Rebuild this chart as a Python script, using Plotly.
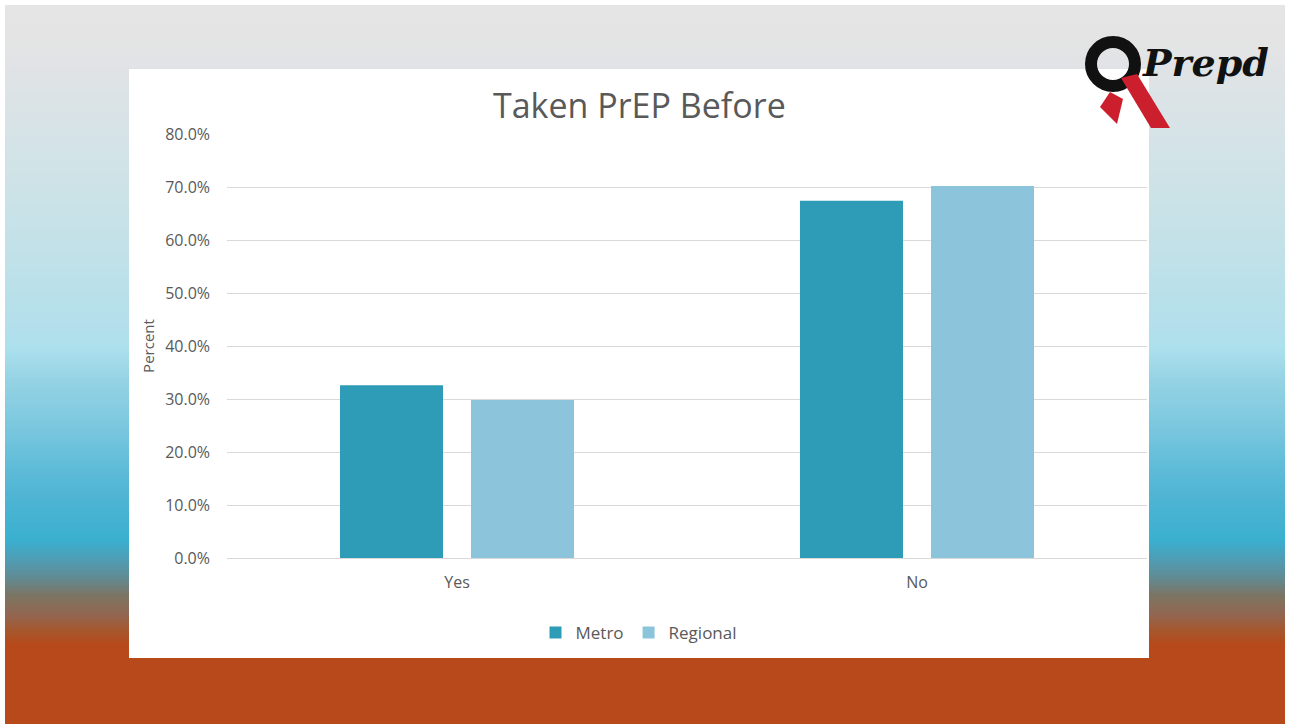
import plotly.graph_objects as go

# ---- data ----
categories = ["Yes", "No"]
metro = [0.326, 0.674]
regional = [0.298, 0.702]
series_names = ["Metro", "Regional"]
y_ticks = [0.0, 0.1, 0.2, 0.3, 0.4, 0.5, 0.6, 0.7, 0.8]
y_tick_labels = ["0.0%", "10.0%", "20.0%", "30.0%", "40.0%", "50.0%", "60.0%", "70.0%", "80.0%"]
title_text = "Taken PrEP Before"

W, H = 1292, 724
METRO_C = "#2E9BB7"
REGIONAL_C = "#8CC5DB"
TXT = "#595959"

def px(x):
    return x / W

def py(y):
    return 1 - y / H

# background gradient stops (pixel y, rgb)
grad = [
    (5, (229, 229, 229)), (40, (228, 228, 228)), (70, (224, 227, 230)),
    (150, (211, 227, 231)), (250, (194, 225, 232)), (330, (178, 223, 235)),
    (347, (173, 224, 237)), (380, (149, 211, 228)), (420, (127, 201, 223)),
    (460, (100, 190, 217)), (490, (82, 182, 212)), (540, (58, 175, 207)),
    (555, (74, 161, 187)), (575, (94, 142, 154)), (595, (123, 117, 100)),
    (615, (147, 102, 80)), (630, (165, 88, 47)), (645, (183, 73, 26)),
    (724, (183, 73, 26)),
]

def color_at(y):
    for (y0, c0), (y1, c1) in zip(grad[:-1], grad[1:]):
        if y0 <= y <= y1:
            t = (y - y0) / (y1 - y0) if y1 > y0 else 0
            return "rgb(%d,%d,%d)" % tuple(round(a + (b - a) * t) for a, b in zip(c0, c1))
    return "rgb(183,73,26)"

shapes = []
step = 2
y = 5
while y < H:
    shapes.append(dict(type="rect", xref="paper", yref="paper", layer="below",
                       x0=px(5), x1=px(1285), y0=py(min(y + step + 1, H)), y1=py(y),
                       fillcolor=color_at(y + step / 2), line=dict(width=0)))
    y += step
# white chart panel
shapes.append(dict(type="rect", xref="paper", yref="paper", layer="below",
                   x0=px(129), x1=px(1149), y0=py(658), y1=py(69),
                   fillcolor="white", line=dict(width=0)))
# logo: ring + ribbon
shapes.append(dict(type="circle", xref="paper", yref="paper", layer="above",
                   x0=px(1091), x1=px(1135), y0=py(86), y1=py(42),
                   line=dict(color="#111111", width=12)))
shapes.append(dict(type="path", xref="paper", yref="paper", layer="above",
                   path="M %f,%f L %f,%f L %f,%f L %f,%f Z" % (px(1121), py(78), px(1137), py(74),
                                                               px(1170), py(128), px(1151), py(128)),
                   fillcolor="#CC1F2D", line=dict(width=0)))
shapes.append(dict(type="path", xref="paper", yref="paper", layer="above",
                   path="M %f,%f L %f,%f L %f,%f L %f,%f Z" % (px(1110), py(92), px(1123), py(99),
                                                               px(1117), py(124), px(1100), py(107)),
                   fillcolor="#CC1F2D", line=dict(width=0)))

fig = go.Figure()
fig.add_trace(go.Bar(x=categories, y=metro, name=series_names[0], marker_color=METRO_C,
                     marker_line_width=0))
fig.add_trace(go.Bar(x=categories, y=regional, name=series_names[1], marker_color=REGIONAL_C,
                     marker_line_width=0))

fig.update_layout(
    width=W, height=H,
    margin=dict(l=0, r=0, t=0, b=0, pad=0, autoexpand=False),
    paper_bgcolor="white", plot_bgcolor="rgba(0,0,0,0)",
    barmode="group", bargap=0.4304, bargroupgap=0.2137,
    font=dict(family="Open Sans", color=TXT, size=16),
    shapes=shapes,
    showlegend=True,
    legend=dict(orientation="h", x=px(639), xanchor="center", y=py(633), yanchor="middle",
                font=dict(size=17, color=TXT), itemwidth=30, bgcolor="rgba(0,0,0,0)"),
    xaxis=dict(domain=[px(227), px(1147)], showgrid=False, showline=True, linecolor="#D9D9D9",
               linewidth=1, tickfont=dict(size=16, color=TXT), ticks="", ticklabelstandoff=10,
               fixedrange=True, automargin=False),
    yaxis=dict(domain=[py(558), py(134)], range=[0, 0.8], tickvals=y_ticks, ticktext=y_tick_labels,
               showgrid=True, gridcolor="#D9D9D9", gridwidth=1, zeroline=False,
               tickfont=dict(size=16, color=TXT), ticklabelstandoff=16,
               title=dict(text="Percent", font=dict(size=15, color=TXT), standoff=6),
               fixedrange=True, automargin=False),
    annotations=[
        dict(text=title_text, xref="paper", yref="paper", x=px(639), y=py(105),
             xanchor="center", yanchor="middle", showarrow=False,
             font=dict(size=34, color=TXT, family="Open Sans")),
        dict(text="Prepd", xref="paper", yref="paper", x=px(1205), y=py(62),
             xanchor="center", yanchor="middle", showarrow=False,
             font=dict(size=38, color="#111111", family="DejaVu Serif", style="italic", weight="bold")),
    ],
)

fig.write_html("out.html", config={"displayModeBar": False},
               post_script="document.body.style.margin='0';")
